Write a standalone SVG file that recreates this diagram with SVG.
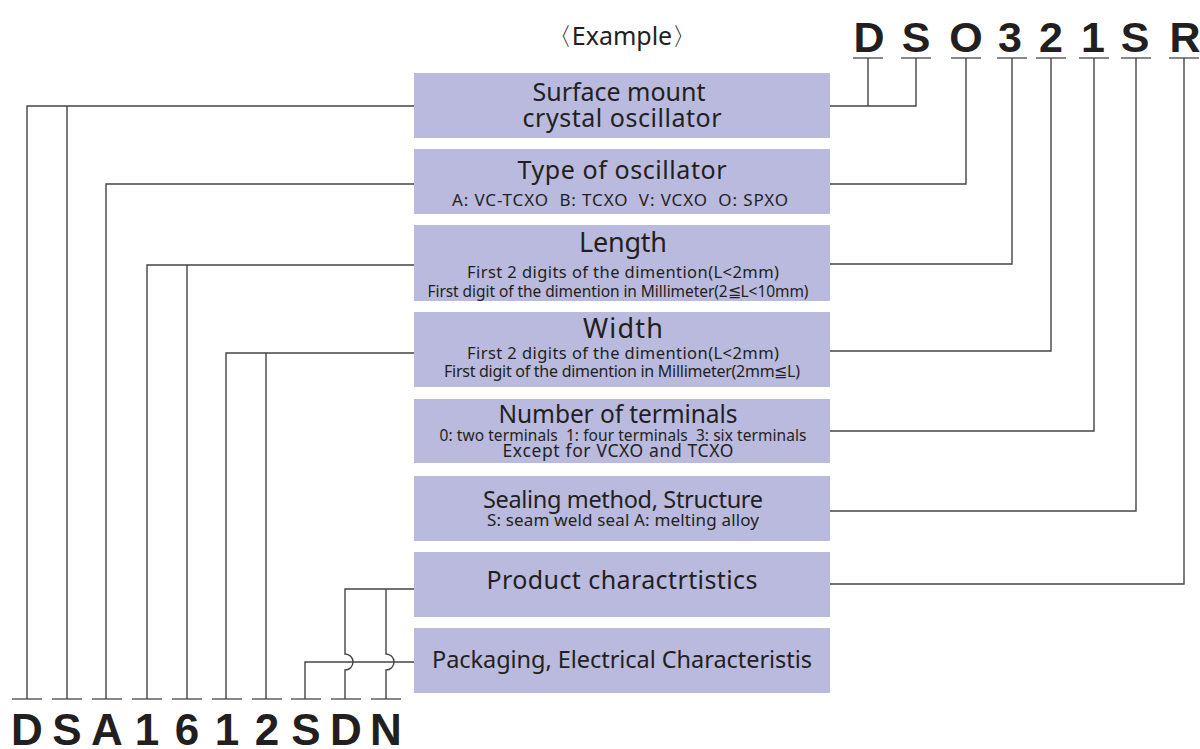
<svg xmlns="http://www.w3.org/2000/svg" width="1200" height="749" viewBox="0 0 1200 749">
<style>
.box{fill:#b9badd}
.t{font-family:"Noto Sans","Open Sans",sans-serif;fill:#231f20;text-anchor:middle}
.h{font-size:25px}
.hb{font-size:27px}
.s{font-size:16.5px}
.code{font-family:"Liberation Sans",Arial,sans-serif;font-weight:bold;fill:#231f20;text-anchor:middle}
.ln{fill:none;stroke:#444;stroke-width:1.4}
.tick{fill:none;stroke:#888;stroke-width:2}
</style>
<rect width="1200" height="749" fill="#fff"/>
<text class="t" x="622" y="45" font-size="25">〈Example〉</text>
<text class="code" x="869 916 966 1010 1051 1093 1135 1185" y="52" font-size="43">DSO321SR</text>
<text class="code" x="27 67 107 147 187 227 267 306 346 386" y="745" font-size="44">DSA1612SDN</text>

<g id="connectors">
<path class="tick" d="M853 58h30M901 58h30M951 58h30M997 58h30M1036 58h30M1079 58h30M1121 58h30M1169 58h30"/>
<path class="tick" d="M12 699h30M52 699h30M92 699h30M132 699h30M172 699h30M212 699h30M252 699h30M291 699h30M331 699h30M371 699h30"/>
<path class="ln" d="M868 58V106M916 58V106H830"/>
<path class="ln" d="M966 58V184H830"/>
<path class="ln" d="M1012 58V264H830"/>
<path class="ln" d="M1051 58V351H830"/>
<path class="ln" d="M1094 58V431H830"/>
<path class="ln" d="M1136 58V511H830"/>
<path class="ln" d="M1184 58V584H830"/>
<path class="ln" d="M414 106H27V699M67 106V699"/>
<path class="ln" d="M414 184H106V699"/>
<path class="ln" d="M414 265H147V699M187 265V699"/>
<path class="ln" d="M414 353H226V699M266 353V699"/>
<path class="ln" d="M414 589H345V654A8 8 0 0 1 345 670V699M386 589V654A8 8 0 0 1 386 670V699"/>
<path class="ln" d="M414 662H305V699"/>
</g>

<g id="n1"><rect class="box" x="414" y="73" width="416" height="65"/>
<text class="t h" x="619" y="101" textLength="173">Surface mount</text>
<text class="t h" x="622" y="127" textLength="199">crystal oscillator</text></g>

<g id="n2"><rect class="box" x="414" y="149" width="416" height="65"/>
<text class="t h" x="622" y="179" textLength="209">Type of oscillator</text>
<text class="t" x="620" y="206" font-size="17" textLength="336" xml:space="preserve">A: VC-TCXO  B: TCXO  V: VCXO  O: SPXO</text></g>

<g id="n3"><rect class="box" x="414" y="225" width="416" height="76"/>
<text class="t hb" x="623" y="252" textLength="88">Length</text>
<text class="t s" x="623" y="278" textLength="312">First 2 digits of the dimention(L&lt;2mm)</text>
<text class="t" x="618" y="297" font-size="15.5" textLength="381">First digit of the dimention in Millimeter(2≦L&lt;10mm)</text></g>

<g id="n4"><rect class="box" x="414" y="312" width="416" height="75"/>
<text class="t hb" x="623" y="338" textLength="80">Width</text>
<text class="t s" x="623" y="359" textLength="312">First 2 digits of the dimention(L&lt;2mm)</text>
<text class="t" x="622" y="377" font-size="16" textLength="356">First digit of the dimention in Millimeter(2mm≦L)</text></g>

<g id="n5"><rect class="box" x="414" y="399" width="416" height="64"/>
<text class="t" x="618" y="423" font-size="24.5" textLength="239">Number of terminals</text>
<text class="t" x="623" y="441" font-size="15.5" textLength="367" xml:space="preserve">0: two terminals  1: four terminals  3: six terminals</text>
<text class="t" x="618" y="457" font-size="17.5" textLength="231">Except for VCXO and TCXO</text></g>

<g id="n6"><rect class="box" x="414" y="476" width="416" height="65"/>
<text class="t" x="623" y="508" font-size="23.5" textLength="280">Sealing method, Structure</text>
<text class="t" x="623" y="526" font-size="17" textLength="272">S: seam weld seal A: melting alloy</text></g>

<g id="n7"><rect class="box" x="414" y="552" width="416" height="65"/>
<text class="t h" x="622" y="589" textLength="271">Product charactrtistics</text></g>

<g id="n8"><rect class="box" x="414" y="628" width="416" height="65"/>
<text class="t" x="622" y="668" font-size="23.5" textLength="380">Packaging, Electrical Characteristis</text></g>
</svg>
